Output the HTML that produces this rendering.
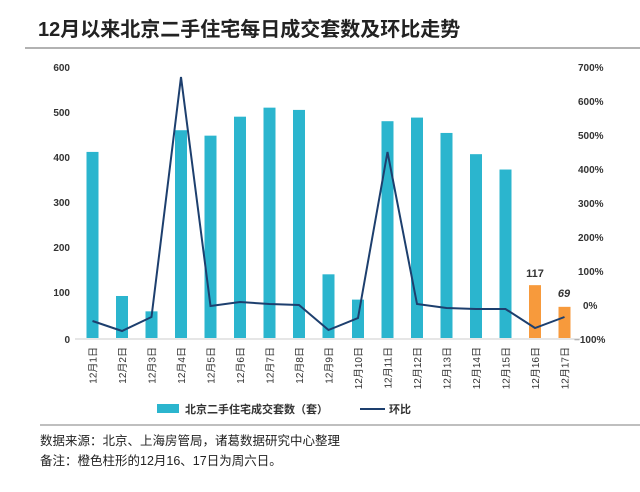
<!DOCTYPE html>
<html><head><meta charset="utf-8"><style>
body{margin:0;background:#fff;width:640px;height:487px;overflow:hidden;font-family:"Liberation Sans","Noto Sans CJK SC",sans-serif}
</style></head><body>
<svg width="640" height="487" xmlns="http://www.w3.org/2000/svg" font-family="Liberation Sans, Noto Sans CJK SC, sans-serif">
<rect width="640" height="487" fill="#fff"/>
<text x="38" y="36" font-size="20" font-weight="bold" fill="#222">12月以来北京二手住宅每日成交套数及环比走势</text>
<line x1="25" y1="48" x2="640" y2="48" stroke="#999" stroke-width="1.5"/>
<g font-size="10" font-weight="bold" fill="#333" text-anchor="end">
<text x="70" y="71">600</text><text x="70" y="116">500</text><text x="70" y="161">400</text><text x="70" y="206">300</text><text x="70" y="251">200</text><text x="70" y="296">100</text><text x="70" y="343">0</text>
</g>
<g font-size="10" font-weight="bold" fill="#333" text-anchor="start">
<text x="578" y="71">700%</text><text x="578" y="105">600%</text><text x="578" y="139">500%</text><text x="578" y="173">400%</text><text x="578" y="207">300%</text><text x="578" y="241">200%</text><text x="578" y="275">100%</text><text x="583" y="309">0%</text><text x="574" y="343">−100%</text>
</g>
<line x1="75" y1="339" x2="580" y2="339" stroke="#ddd" stroke-width="1.5"/>
<script>
var v=[412,93,59,460,448,490,510,505,141,85,480,488,454,407,373,117,69];
var ly=[321,331,317,77,306,302,304,305,330,318,152,304,308,309,309,328,317];
var ns="http://www.w3.org/2000/svg",s=document.querySelector("svg");
var pts=[];
for(var i=0;i<17;i++){var cx=92.5+i*29.5;var h=v[i]*271/600;
var r=document.createElementNS(ns,"rect");r.setAttribute("x",cx-6);r.setAttribute("y",338-h);r.setAttribute("width",12);r.setAttribute("height",h);r.setAttribute("fill",i>=15?"#f79a3c":"#2bb5ce");s.appendChild(r);
pts.push(cx+","+ly[i]);
var t=document.createElementNS(ns,"text");t.setAttribute("transform","translate("+(cx+4)+",347) rotate(-90)");t.setAttribute("text-anchor","end");t.setAttribute("font-size","10");t.setAttribute("fill","#333");t.textContent="12月"+(i+1)+"日";s.appendChild(t);}
var p=document.createElementNS(ns,"polyline");p.setAttribute("points",pts.join(" "));p.setAttribute("fill","none");p.setAttribute("stroke","#1d3f6e");p.setAttribute("stroke-width","2");s.appendChild(p);
</script>
<text x="535" y="277" font-size="11" font-weight="bold" fill="#333" text-anchor="middle">117</text>
<text x="564" y="297" font-size="11" font-weight="bold" font-style="italic" fill="#333" text-anchor="middle">69</text>
<rect x="157" y="404" width="22" height="9" fill="#2bb5ce"/>
<text x="185" y="413" font-size="11" font-weight="bold" fill="#333">北京二手住宅成交套数（套）</text>
<line x1="360" y1="409" x2="385" y2="409" stroke="#1d3f6e" stroke-width="2"/>
<text x="389" y="413" font-size="11" font-weight="bold" fill="#333">环比</text>
<line x1="40" y1="425" x2="640" y2="425" stroke="#aaa" stroke-width="1.5"/>
<text x="40" y="445" font-size="12.5" fill="#222">数据来源：北京、上海房管局，诸葛数据研究中心整理</text>
<text x="40" y="465" font-size="12.5" fill="#222">备注：橙色柱形的12月16、17日为周六日。</text>
</svg>
</body></html>
